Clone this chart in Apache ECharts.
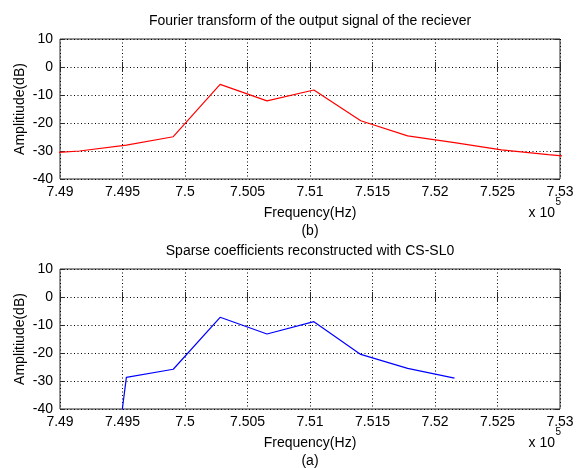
<!DOCTYPE html>
<html>
<head>
<meta charset="utf-8">
<script src="https://cdn.jsdelivr.net/npm/echarts@6/dist/echarts.min.js"></script>
<style>
html, body { margin: 0; padding: 0; background: #ffffff; }
#chart { width: 578px; height: 468px; }
</style>
</head>
<body>
<div id="chart"></div>
<script>
// Spectrum of the receiver output (Hz, dB)
const receiverFreqHz = [748781, 749156, 749531, 749906, 750281, 750656, 751031, 751406, 751781, 752156, 752531, 752906, 753281];
const receiverDb = [-31.2, -30.0, -27.9, -24.9, -6.2, -12.1, -8.2, -19.2, -24.6, -27.0, -29.6, -31.3, -32.8];

// Sparse coefficients recovered by CS-SL0 (Hz, dB)
const sl0FreqHz = [749156, 749531, 749906, 750281, 750656, 751031, 751406, 751781, 752156];
const sl0Db = [-160, -28.7, -25.8, -7.25, -13.2, -8.8, -20.5, -25.5, -29.0];

// Axis tick labels (frequency shown in units of 1e5 Hz)
const freqTickLabels = ['7.49', '7.495', '7.5', '7.505', '7.51', '7.515', '7.52', '7.525', '7.53'];
const ampTickLabels = ['-40', '-30', '-20', '-10', '0', '10'];

const panelTitles = ['Fourier transform of the output signal of the reciever', 'Sparse coefficients reconstructed with CS-SL0'];
const panelTags = ['(b)', '(a)'];
const xAxisName = 'Frequency(Hz)';
const yAxisName = 'Amplitiude(dB)';

const FONT = '"Liberation Sans", Arial, Helvetica, sans-serif';
const FS = 14;
const GRID_LEFT = 60, GRID_W = 500, GRID_H = 140;
const gridTops = [39, 269];

const chart = echarts.init(document.getElementById('chart'), null, { renderer: 'canvas' });

const grids = [], xAxes = [], yAxes = [], series = [], graphics = [];
const dotted = { color: '#000000', width: 1, type: [1, 2.5] };

gridTops.forEach(function (top, i) {
  grids.push({
    left: GRID_LEFT, top: top, width: GRID_W, height: GRID_H,
    show: true, borderColor: '#2a2a2a', borderWidth: 1, backgroundColor: 'transparent'
  });
  const xBase = {
    gridIndex: i, type: 'value', min: 749000, max: 753000, interval: 500,
    axisLine: { show: false },
    axisTick: { show: true, inside: true, length: 5, lineStyle: { color: '#2a2a2a' } }
  };
  xAxes.push(Object.assign({}, xBase, {
    position: 'bottom',
    axisLabel: {
      show: true, margin: 6, color: '#000', fontFamily: FONT, fontSize: FS,
      formatter: function (v, idx) { return freqTickLabels[idx]; }
    },
    splitLine: { show: true, lineStyle: dotted }
  }));
  xAxes.push(Object.assign({}, xBase, {
    position: 'top',
    axisLabel: { show: false },
    splitLine: { show: false }
  }));
  const yBase = {
    gridIndex: i, type: 'value', min: -40, max: 10, interval: 10,
    axisLine: { show: false },
    axisTick: { show: true, inside: true, length: 5, lineStyle: { color: '#2a2a2a' } }
  };
  yAxes.push(Object.assign({}, yBase, {
    position: 'left',
    axisLabel: {
      show: true, margin: 7, color: '#000', fontFamily: FONT, fontSize: FS,
      formatter: function (v, idx) { return ampTickLabels[idx]; }
    },
    splitLine: { show: true, lineStyle: dotted }
  }));
  yAxes.push(Object.assign({}, yBase, {
    position: 'right',
    axisLabel: { show: false },
    splitLine: { show: false }
  }));

  const cx = GRID_LEFT + GRID_W / 2;
  const txt = { fontFamily: FONT, fontSize: FS, fill: '#000', align: 'center', verticalAlign: 'middle' };
  graphics.push({ type: 'text', x: cx, y: top - 18, style: Object.assign({ text: panelTitles[i] }, txt) });
  graphics.push({ type: 'text', x: cx, y: top + 174, style: Object.assign({ text: xAxisName }, txt) });
  graphics.push({ type: 'text', x: cx, y: top + 192, style: Object.assign({ text: panelTags[i] }, txt) });
  graphics.push({ type: 'text', x: 555, y: top + 174, style: Object.assign({}, txt, { text: 'x 10', align: 'right' }) });
  graphics.push({ type: 'text', x: 555.5, y: top + 163, style: Object.assign({}, txt, { text: '5', align: 'left', fontSize: 10 }) });
  graphics.push({ type: 'text', x: 20, y: top + GRID_H / 2, rotation: Math.PI / 2, style: Object.assign({ text: yAxisName }, txt) });
});

function pairs(xs, ys) { return xs.map(function (x, k) { return [x, ys[k]]; }); }

series.push({
  type: 'line', xAxisIndex: 0, yAxisIndex: 0, clip: true,
  showSymbol: false, symbol: 'none', silent: true,
  lineStyle: { color: '#ff0000', width: 1.2 },
  data: pairs(receiverFreqHz, receiverDb)
});
series.push({
  type: 'line', xAxisIndex: 2, yAxisIndex: 2, clip: true,
  showSymbol: false, symbol: 'none', silent: true,
  lineStyle: { color: '#0000ff', width: 1.2 },
  data: pairs(sl0FreqHz, sl0Db)
});

chart.setOption({
  animation: false,
  backgroundColor: '#ffffff',
  grid: grids,
  xAxis: xAxes,
  yAxis: yAxes,
  series: series,
  graphic: graphics
});
</script>
</body>
</html>
